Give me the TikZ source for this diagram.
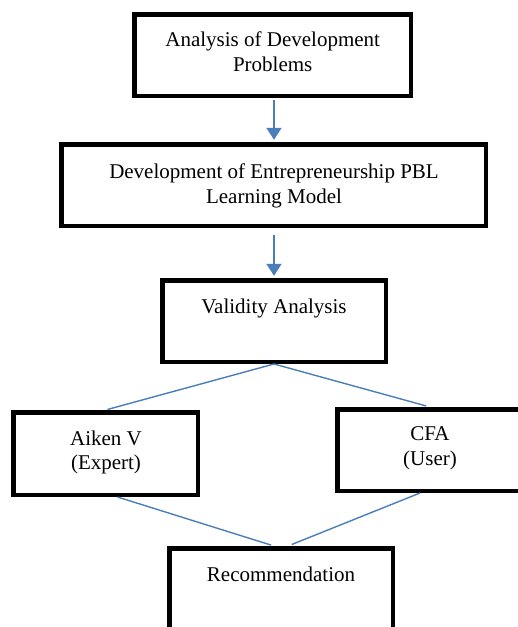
\documentclass[tikz,border=0pt]{standalone}
\usepackage{fontspec}
\setmainfont{Liberation Serif}
\usetikzlibrary{arrows.meta,calc}
\definecolor{linkblue}{HTML}{4A7EBB}
\begin{document}
\begin{tikzpicture}[x=1pt,y=-1pt,
  boxnode/.style={draw=black,line width=4.5pt,inner sep=0pt,fill=white},
  txt/.style={inner sep=0pt,align=center,anchor=north,font=\fontsize{21}{24.5}\selectfont},
  flowarrow/.style={draw=linkblue,line width=2pt,-{Triangle[width=15pt,length=12pt]}},
  joinline/.style={draw=linkblue,line width=1.4pt}]
\clip (0,0) rectangle (518,627);
\fill[white] (0,0) rectangle (518,627);
% boxes (outer size minus line width)
\node[boxnode,minimum width=276.5pt,minimum height=81.5pt] (b1) at (272.5,55) {};
\node[boxnode,minimum width=424.5pt,minimum height=81.5pt] (b2) at (273.5,185) {};
\node[boxnode,minimum width=223.5pt,minimum height=81.5pt] (b3) at (274,321) {};
\node[boxnode,minimum width=184.5pt,minimum height=82.5pt] (b4) at (105.5,453.5) {};
\node[boxnode,minimum width=185.5pt,minimum height=81.5pt] (b5) at (430,450) {};
\node[boxnode,minimum width=223.5pt,minimum height=81.5pt] (b6) at (281,589) {};
% texts
\node[txt] (t1) at (272.7,31.6) {Analysis of Development\\Problems};
\node[txt] (t2) at (274,163.6) {Development of Entrepreneurship PBL\\Learning Model};
\node[txt] (t3) at (274,298.6) {Validity Analysis};
\node[txt] (t4) at (106,430.6) {Aiken V\\(Expert)};
\node[txt] (t5) at (430,426.6) {CFA\\(User)};
\node[txt] (t6) at (281,566.6) {Recommendation};
% connectors
\draw[flowarrow,shorten <=2.25pt,shorten >=2.25pt] (b1.south -| b3.north) -- (b2.north -| b3.north);
\draw[flowarrow,shorten <=7pt,shorten >=2.25pt] (b2.south -| b3.north) -- (b3.north);
\draw[joinline,shorten >=2pt] (b3.south) -- (b4.north);
\draw[joinline,shorten >=4pt] (b3.south) -- (b5.north);
\draw[joinline,shorten <=0pt,shorten >=3pt] ([xshift=12pt]b4.south) -- ([xshift=-7pt]b6.north);
\draw[joinline,shorten >=4pt] ([xshift=-10pt]b5.south) -- ([xshift=7pt]b6.north);
\end{tikzpicture}
\end{document}
